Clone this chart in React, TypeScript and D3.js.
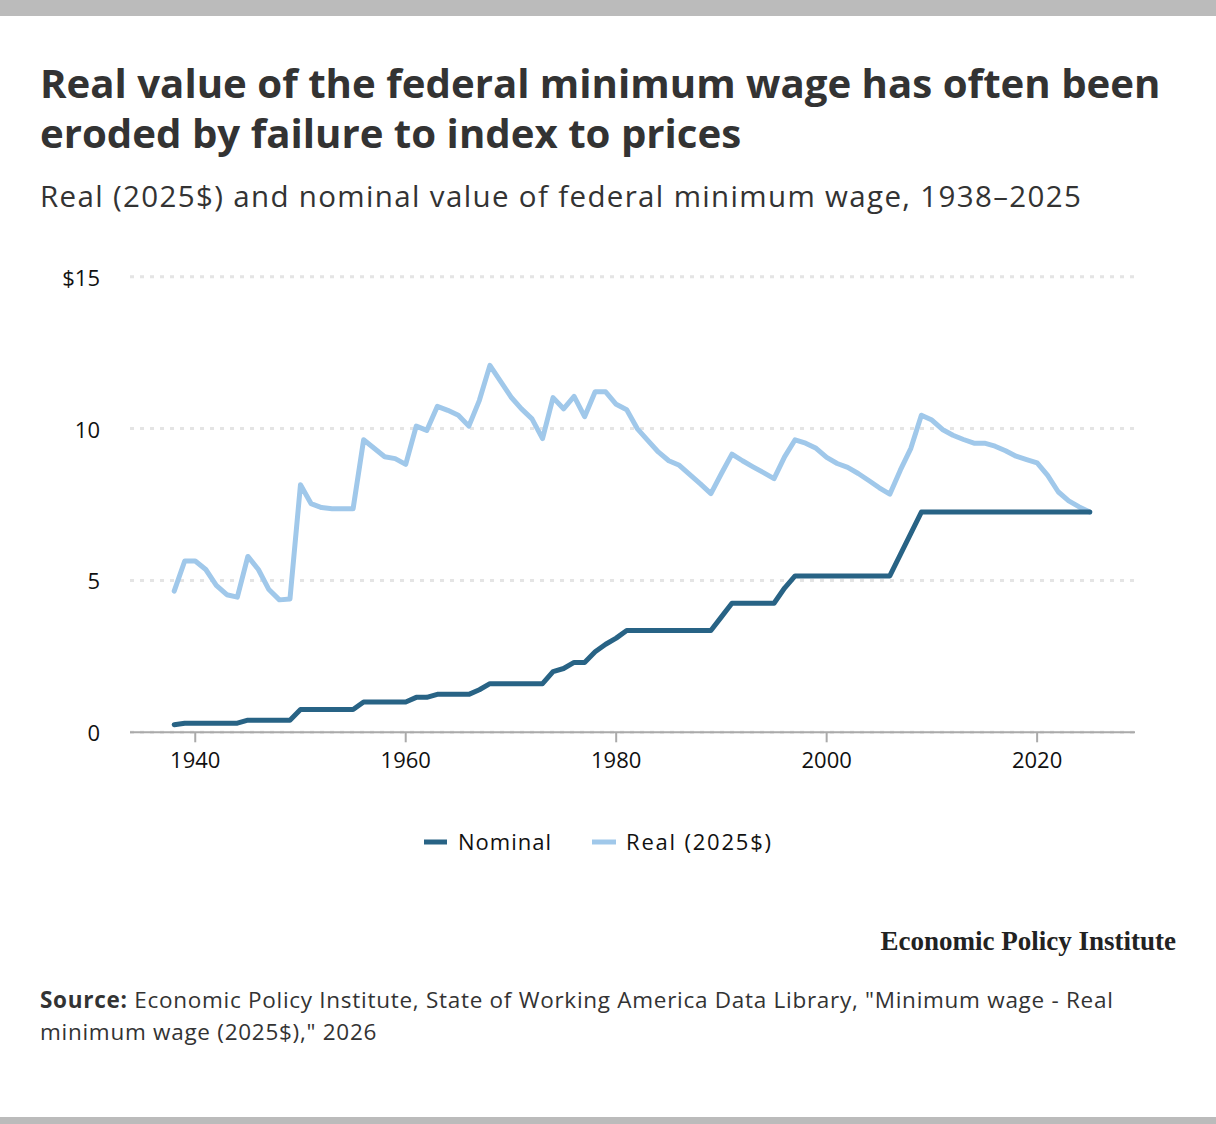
import * as d3 from "d3";

const years = d3.range(1938, 2026);

const nominal = [
  0.25, 0.3, 0.3, 0.3, 0.3, 0.3, 0.3, 0.4, 0.4, 0.4, 0.4, 0.4, 0.75, 0.75, 0.75, 0.75, 0.75, 0.75,
  1.0, 1.0, 1.0, 1.0, 1.0, 1.15, 1.15, 1.25, 1.25, 1.25, 1.25, 1.4, 1.6, 1.6, 1.6, 1.6, 1.6, 1.6,
  2.0, 2.1, 2.3, 2.3, 2.65, 2.9, 3.1, 3.35, 3.35, 3.35, 3.35, 3.35, 3.35, 3.35, 3.35, 3.35,
  3.8, 4.25, 4.25, 4.25, 4.25, 4.25, 4.75, 5.15, 5.15, 5.15, 5.15, 5.15, 5.15, 5.15, 5.15, 5.15,
  5.15, 5.85, 6.55, 7.25, 7.25, 7.25, 7.25, 7.25, 7.25, 7.25, 7.25, 7.25, 7.25, 7.25, 7.25,
  7.25, 7.25, 7.25, 7.25, 7.25,
];

const real = [
  4.65, 5.64, 5.64, 5.36, 4.84, 4.53, 4.45, 5.79, 5.36, 4.7, 4.36, 4.39, 8.15, 7.53, 7.4, 7.36,
  7.36, 7.36, 9.63, 9.35, 9.07, 9.01, 8.82, 10.08, 9.94, 10.73, 10.6, 10.44, 10.08, 10.93, 12.08,
  11.56, 11.04, 10.65, 10.32, 9.67, 11.02, 10.65, 11.06, 10.39, 11.21, 11.21, 10.8, 10.62, 10.0,
  9.61, 9.23, 8.94, 8.79, 8.48, 8.18, 7.86, 8.52, 9.16, 8.94, 8.74, 8.55, 8.35, 9.07, 9.63, 9.52,
  9.35, 9.05, 8.85, 8.72, 8.52, 8.29, 8.05, 7.84, 8.63, 9.35, 10.44, 10.28, 9.97, 9.78, 9.64,
  9.52, 9.52, 9.42, 9.27, 9.09, 8.98, 8.87, 8.46, 7.92, 7.62, 7.42, 7.25,
];

const yTicks = [0, 5, 10, 15];
const xTicks = [1940, 1960, 1980, 2000, 2020];

const W = 1216;
const H = 1124;
const FONT = "'Open Sans', Lato, sans-serif";
const NOMINAL_COLOR = "#286385";
const REAL_COLOR = "#a0c8ea";

export default function App() {
  const x = d3.scaleLinear().domain([1933.8, 2029.3]).range([130, 1135]);
  const y = d3.scaleLinear().domain([0, 15]).range([732.3, 276.7]);

  const line = d3
    .line<number>()
    .x((_, i) => x(years[i]))
    .y((d) => y(d));

  const [x0, x1] = x.range();

  return (
    <div style={{ position: "absolute", left: 0, top: 0, width: W, height: H, background: "#fff" }}>
      <svg width={W} height={H} style={{ display: "block" }} fontFamily={FONT}>
        <rect x={0} y={0} width={W} height={16} fill="#bbbbbb" />
        <rect x={0} y={H - 7} width={W} height={7} fill="#bbbbbb" />

        {/* ---------- heading ---------- */}
        <text x={40} y={98} fontSize={40.2} fontWeight={700} fill="#333">
          Real value of the federal minimum wage has often been
        </text>
        <text x={40} y={148} fontSize={40.2} fontWeight={700} fill="#333">
          eroded by failure to index to prices
        </text>
        <text x={40} y={207} fontSize={29.5} letterSpacing={1.35} fill="#333">
          Real (2025$) and nominal value of federal minimum wage, 1938–2025
        </text>

        {/* ---------- grid ---------- */}
        {yTicks.map((t) => (
          <g key={t}>
            <line
              x1={x0}
              x2={x1}
              y1={y(t)}
              y2={y(t)}
              stroke="#e4e4e4"
              strokeWidth={3}
              strokeDasharray="4 6"
            />
            <text x={100} y={y(t) + 9} fontSize={22} textAnchor="end" fill="#111">
              {t === 15 ? "$15" : t}
            </text>
          </g>
        ))}

        <line x1={x0} x2={x1} y1={y(0)} y2={y(0)} stroke="#aaa" strokeWidth={2} />
        {xTicks.map((t) => (
          <g key={t}>
            <line x1={x(t)} x2={x(t)} y1={y(0)} y2={y(0) + 10} stroke="#aaa" strokeWidth={2} />
            <text x={x(t)} y={768} fontSize={22} textAnchor="middle" fill="#111">
              {t}
            </text>
          </g>
        ))}

        {/* ---------- series ---------- */}
        <path d={line(real) ?? ""} fill="none" stroke={REAL_COLOR} strokeWidth={5} strokeLinejoin="round" strokeLinecap="round" />
        <path d={line(nominal) ?? ""} fill="none" stroke={NOMINAL_COLOR} strokeWidth={5} strokeLinejoin="round" strokeLinecap="round" />

        {/* ---------- legend ---------- */}
        <line x1={424} x2={447} y1={842} y2={842} stroke={NOMINAL_COLOR} strokeWidth={5} />
        <text x={458} y={850} fontSize={22} letterSpacing={1} fill="#111">Nominal</text>
        <line x1={592} x2={616} y1={842} y2={842} stroke={REAL_COLOR} strokeWidth={5} />
        <text x={626} y={850} fontSize={22} letterSpacing={1.8} fill="#111">Real (2025$)</text>

        {/* ---------- footer ---------- */}
        <text
          x={1176}
          y={950}
          fontSize={27}
          fontWeight={700}
          textAnchor="end"
          fill="#222"
          fontFamily="'Liberation Serif', 'DejaVu Serif', serif"
        >
          Economic Policy Institute
        </text>
        <text x={40} y={1008} fontSize={22.5} letterSpacing={0.72} fill="#333">
          <tspan fontWeight={700}>Source:</tspan> Economic Policy Institute, State of Working America Data Library, "Minimum wage - Real
        </text>
        <text x={40} y={1040} fontSize={22.5} letterSpacing={0.72} fill="#333">
          minimum wage (2025$)," 2026
        </text>
      </svg>
    </div>
  );
}
